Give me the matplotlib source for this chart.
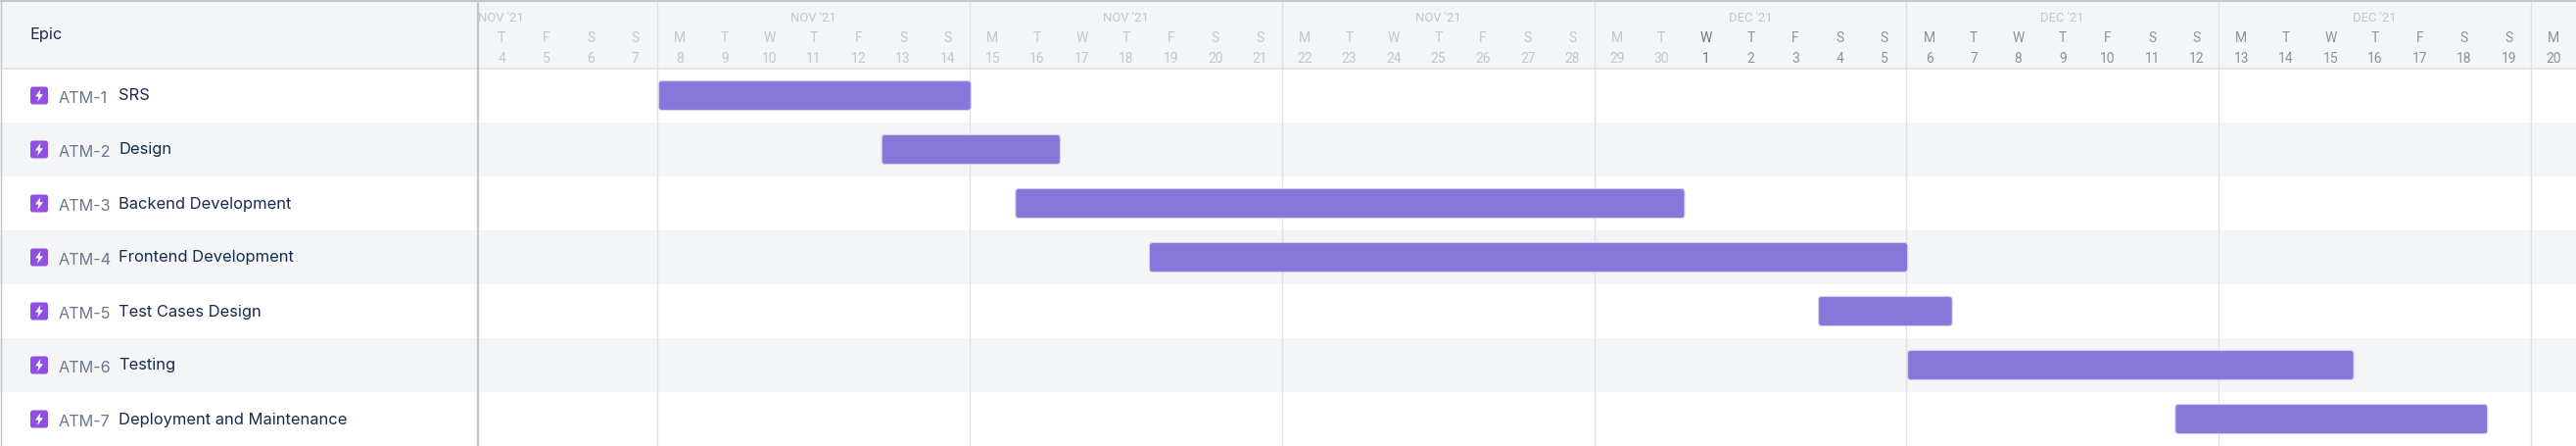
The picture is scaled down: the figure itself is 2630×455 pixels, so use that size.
import matplotlib
matplotlib.use("Agg")
import matplotlib.pyplot as plt
import matplotlib.dates as mdates
import pandas as pd
from matplotlib.patches import FancyBboxPatch, Polygon, Rectangle

keys = ["ATM-1", "ATM-2", "ATM-3", "ATM-4", "ATM-5", "ATM-6", "ATM-7"]
titles = ["SRS", "Design", "Backend Development", "Frontend Development",
          "Test Cases Design", "Testing", "Deployment and Maintenance"]
starts = ["2021-11-08", "2021-11-13", "2021-11-16", "2021-11-19",
          "2021-12-04", "2021-12-06", "2021-12-12"]
ends = ["2021-11-15", "2021-11-17", "2021-12-01", "2021-12-06",
        "2021-12-07", "2021-12-16", "2021-12-19"]
view_start = "2021-11-04"
view_end = "2021-12-21"
header_title = "Epic"
today_cut = "2021-12-01"

W, H = 2630, 455
SPLIT, HEAD = 489, 70
DAY = 45.54
plt.rcParams["font.family"] = ["Inter", "DejaVu Sans"]

fig = plt.figure(figsize=(W / 100, H / 100), dpi=100, facecolor="white")

def make_axes(x0, y0, x1, y1):
    a = fig.add_axes([x0 / W, 1 - y1 / H, (x1 - x0) / W, (y1 - y0) / H])
    a.set_axis_off()
    return a

x0 = mdates.date2num(pd.Timestamp(view_start))
xlim = (x0, x0 + (W - SPLIT) / DAY)
n = len(keys)

# timeline body
ax = make_axes(SPLIT, HEAD, W, H)
ax.set_xlim(*xlim)
ax.set_ylim(n, 0)
for i in range(n):
    if i % 2:
        ax.add_patch(Rectangle((xlim[0], i), xlim[1] - xlim[0], 1, fc="#f4f5f7", ec="none", zorder=0))
mondays = pd.date_range("2021-11-01", view_end, freq="7D")
for m in mondays:
    ax.axvline(mdates.date2num(m), color="#dfe1e6", lw=1.0, zorder=1)
bar_h = 30 / 55
for i, (s, e) in enumerate(zip(starts, ends)):
    a, b = mdates.date2num(pd.Timestamp(s)), mdates.date2num(pd.Timestamp(e))
    ax.add_patch(FancyBboxPatch((a + 0.03, i + 0.5 - bar_h / 2), b - a, bar_h,
                                boxstyle=f"round,pad=0,rounding_size={3 / DAY}",
                                mutation_aspect=DAY / 55, fc="#8777d9", ec="#d5cff0",
                                lw=0.8, zorder=3))

# timeline header
hx = make_axes(SPLIT, 0, W, HEAD)
hx.set_xlim(*xlim)
hx.set_ylim(HEAD, 0)
hx.add_patch(Rectangle((xlim[0], 0), xlim[1] - xlim[0], HEAD, fc="#f4f5f7", ec="none", zorder=0))
for m in mondays:
    hx.axvline(mdates.date2num(m), color="#dfe1e6", lw=1.0, zorder=1)
    label_day = m + pd.Timedelta(days=3)
    if m + pd.Timedelta(days=7) <= pd.Timestamp(view_end):
        hx.text(mdates.date2num(m) + 3.5, 21.5, f"{label_day.strftime('%b').upper()} '{label_day.strftime('%y')}",
                ha="center", va="baseline", fontsize=9.4, family="Roboto", color="#c1c7d0", clip_on=True)
for d in pd.date_range(view_start, view_end, freq="D", inclusive="left"):
    col = "#c1c7d0" if d < pd.Timestamp(today_cut) else "#8993a4"
    if d == pd.Timestamp(today_cut):
        col = "#6b778c"
    xc = mdates.date2num(d) + 0.51
    hx.text(xc, 43, d.strftime("%a")[0], ha="center", va="baseline", fontsize=10, family="Roboto", color=col, clip_on=True)
    hx.text(xc, 64, str(d.day), ha="center", va="baseline", fontsize=10, family="Roboto", color=col, clip_on=True)

# task list
lx = make_axes(0, 0, SPLIT, H)
lx.set_xlim(0, SPLIT)
lx.set_ylim(H, 0)
lx.add_patch(Rectangle((0, 0), SPLIT, HEAD, fc="#f4f5f7", ec="none", zorder=0))
lx.text(30.5, 40, header_title, ha="left", va="baseline", fontsize=11.8, color="#172b4d")
row = 55
for i, (k, t) in enumerate(zip(keys, titles)):
    yc = HEAD + row * (i + 0.5)
    if i % 2:
        lx.add_patch(Rectangle((0, HEAD + row * i), SPLIT, row, fc="#f4f5f7", ec="none", zorder=0))
    lx.add_patch(FancyBboxPatch((31, yc - 9), 18, 18, boxstyle="round,pad=0,rounding_size=2.5",
                                fc="#904ee2", ec="none", zorder=2))
    bolt = [(41.5, yc - 6.5), (36, yc + 1), (39.3, yc + 1), (38.2, yc + 6.5), (44, yc - 1.2), (40.6, yc - 1.2)]
    lx.add_patch(Polygon(bolt, closed=True, fc="white", ec="none", zorder=3))
    lx.text(60, yc + 7.5, k, ha="left", va="baseline", fontsize=11.7, color="#6b778c")
    lx.text(121, yc + 5, t, ha="left", va="baseline", fontsize=11.9, color="#172b4d")

# frame lines on top of everything
fx = make_axes(0, 0, W, H)
fx.patch.set_alpha(0)
fx.set_xlim(0, W)
fx.set_ylim(H, 0)
fx.plot([0, W], [0.8, 0.8], color="#c1c7d0", lw=1.5)
fx.plot([0.7, 0.7], [0, H], color="#c1c7d0", lw=1.0)
fx.plot([0, W], [HEAD - 0.5, HEAD - 0.5], color="#dfe1e6", lw=1.2)
fx.plot([SPLIT - 0.5, SPLIT - 0.5], [0, H], color="#c1c7d0", lw=1.6)

fig.savefig("out.png", dpi=100, facecolor="white")
